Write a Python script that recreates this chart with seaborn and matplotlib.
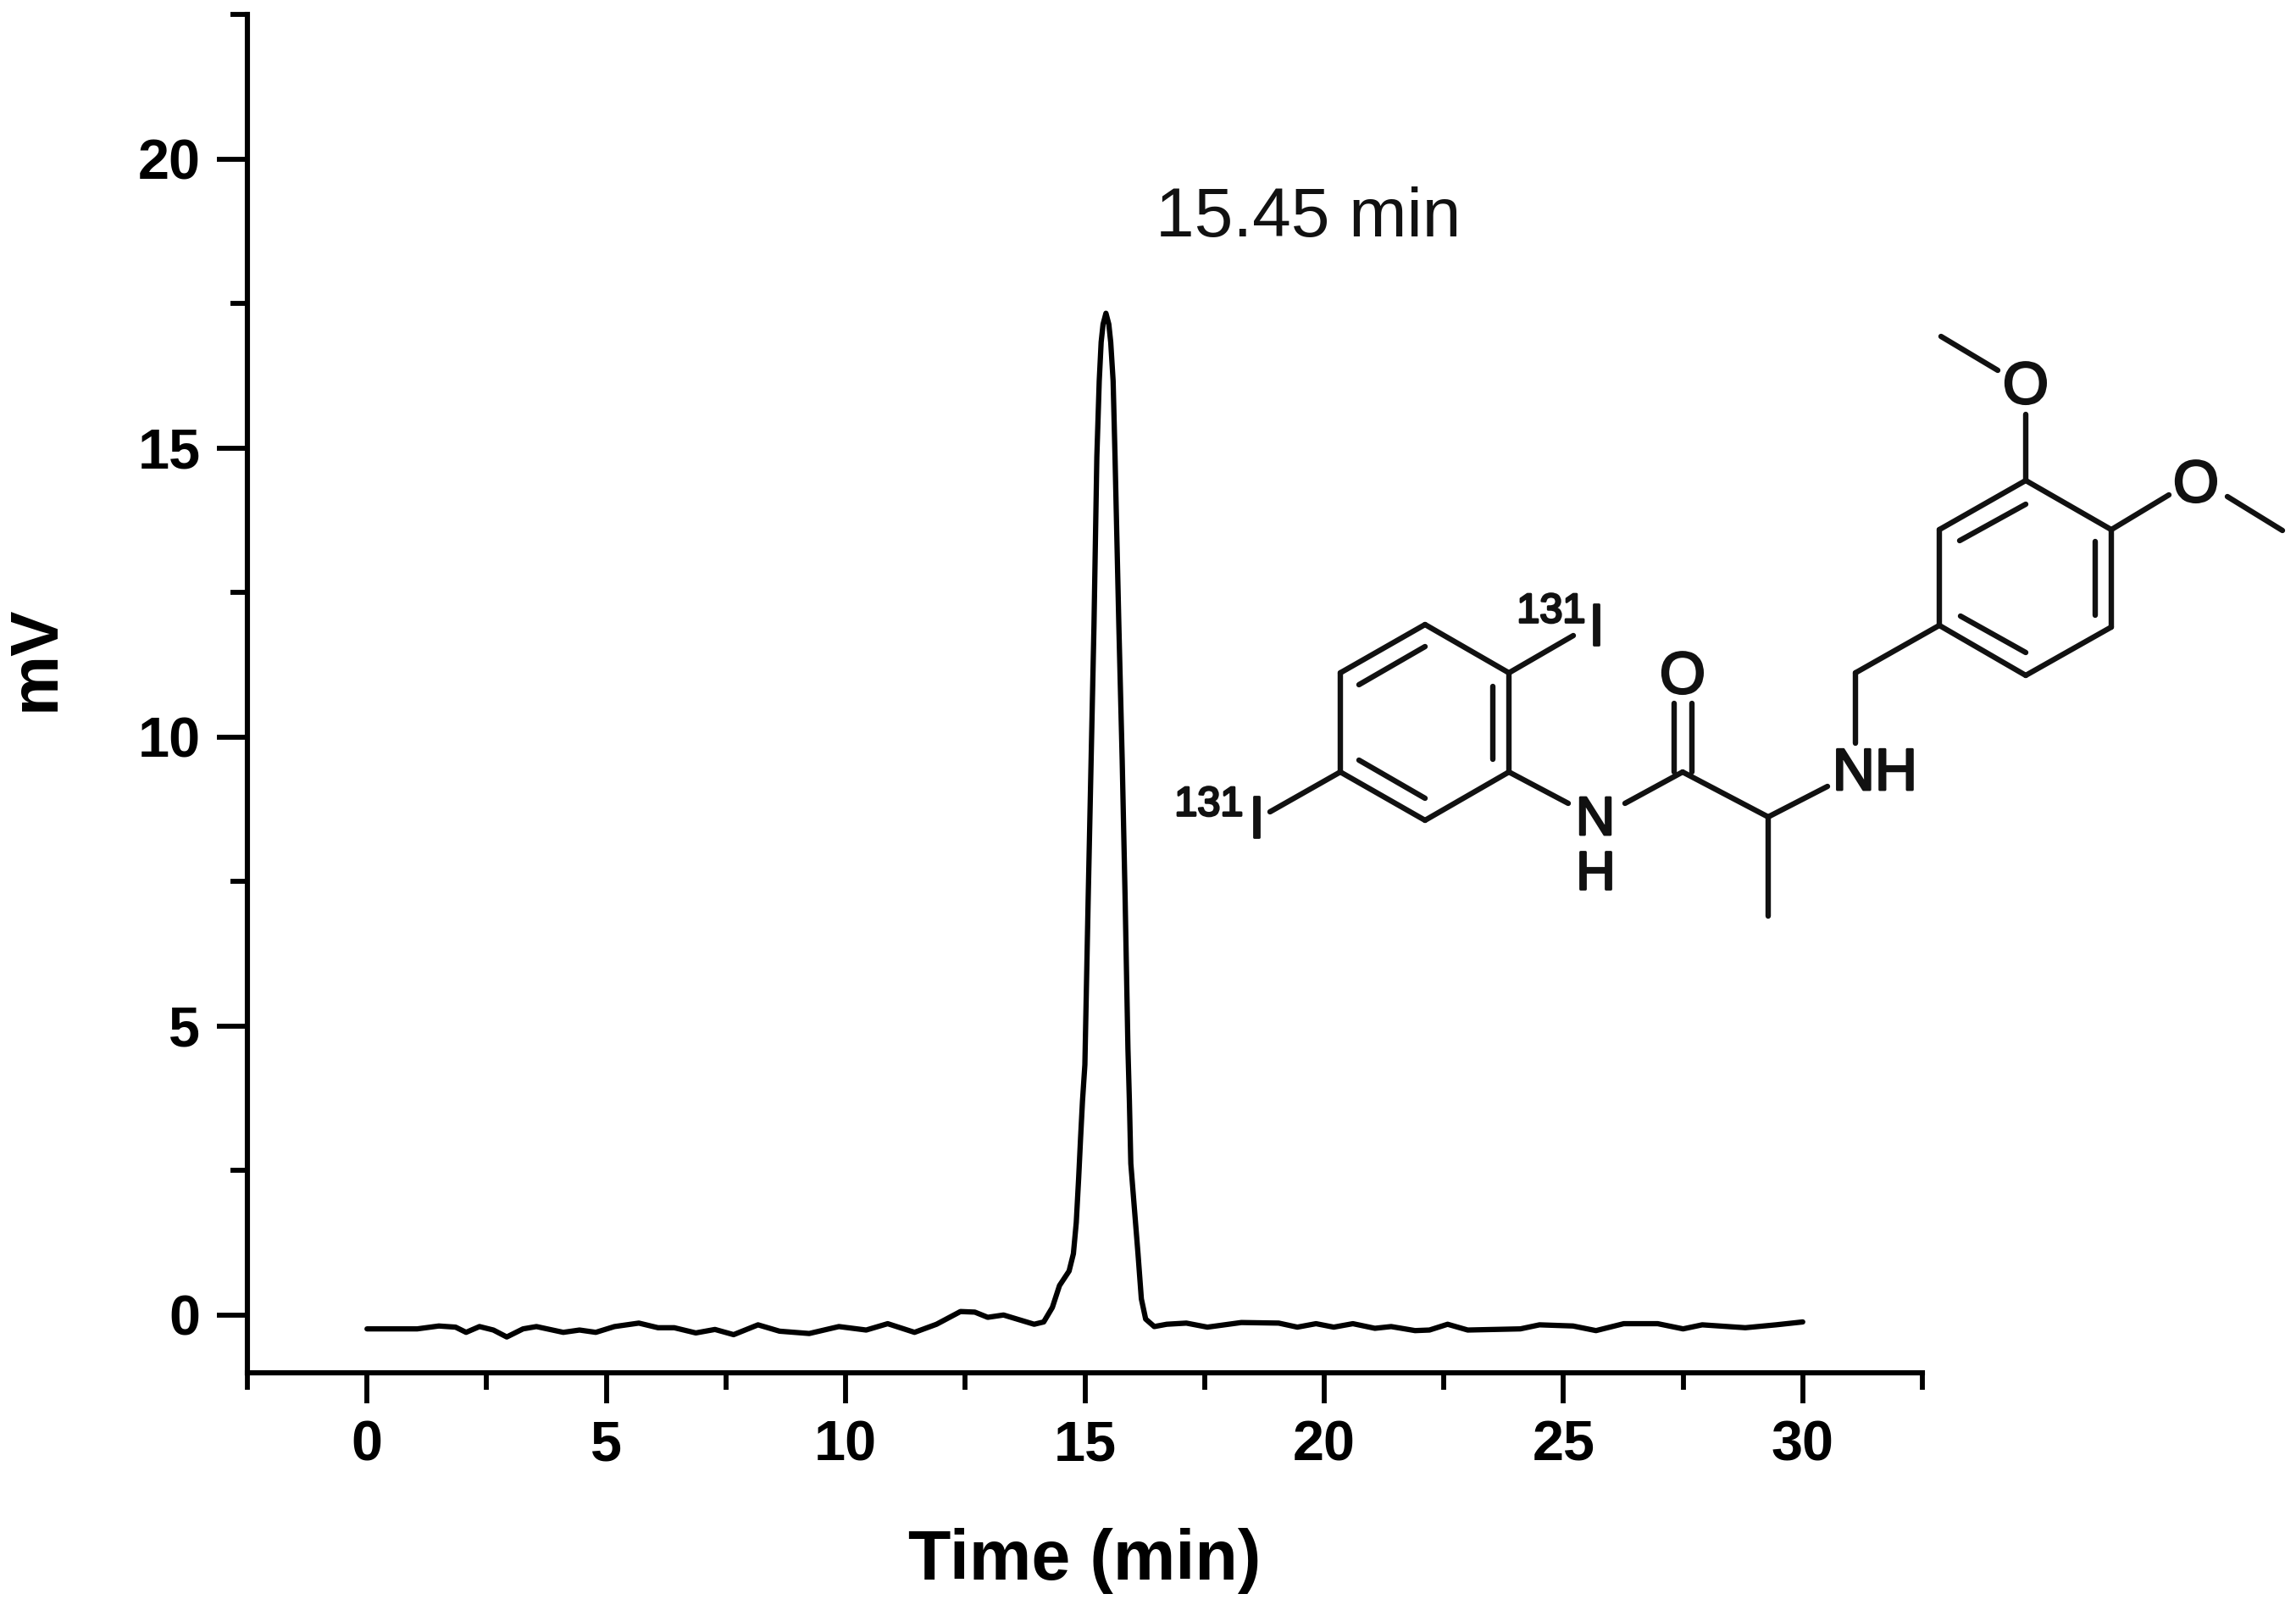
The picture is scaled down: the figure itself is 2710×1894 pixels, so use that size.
import numpy as np
import pandas as pd
import matplotlib
matplotlib.use("Agg")
import matplotlib.pyplot as plt
import matplotlib.patheffects as pe
from matplotlib.ticker import MultipleLocator
import seaborn as sns

# chromatogram
time_min = [0, 1.05, 1.5, 1.85, 2.07, 2.35, 2.64, 2.92, 3.26, 3.54, 4.1, 4.44, 4.78, 5.17, 5.68,
            6.08, 6.42, 6.87, 7.27, 7.66, 8.17, 8.62, 9.24, 9.86, 10.43, 10.88, 11.44, 11.9,
            12.4, 12.7, 12.97, 13.3, 13.58, 13.94, 14.14, 14.32, 14.47, 14.67, 14.76, 14.82,
            14.87, 14.91, 14.95, 15.0, 15.07, 15.13, 15.19, 15.25, 15.3, 15.34, 15.38, 15.44,
            15.5, 15.54, 15.59, 15.63, 15.71, 15.78, 15.84, 15.9, 15.93, 15.96, 16.03, 16.11,
            16.18, 16.27, 16.45, 16.71, 17.12, 17.56, 18.27, 19.05, 19.44, 19.83, 20.2, 20.6,
            21.06, 21.4, 21.9, 22.2, 22.58, 23.0, 24.1, 24.5, 25.2, 25.68, 26.26, 26.97, 27.5,
            27.9, 28.8, 29.44, 30]
signal_mv = [-0.24, -0.24, -0.19, -0.21, -0.30, -0.20, -0.26, -0.38, -0.24, -0.20, -0.30, -0.26,
             -0.30, -0.20, -0.14, -0.22, -0.22, -0.31, -0.25, -0.34, -0.17, -0.28, -0.32, -0.20,
             -0.26, -0.15, -0.30, -0.16, 0.06, 0.05, -0.04, 0.0, -0.07, -0.16, -0.12, 0.13,
             0.51, 0.76, 1.06, 1.6, 2.37, 3.06, 3.7, 4.33, 7.24, 9.59, 11.92, 14.85, 16.16,
             16.83, 17.14, 17.33, 17.14, 16.83, 16.16, 14.85, 11.92, 9.59, 7.24, 4.6, 3.7,
             2.62, 1.89, 1.06, 0.28, -0.07, -0.2, -0.16, -0.14, -0.21, -0.13, -0.14, -0.21,
             -0.15, -0.21, -0.15, -0.23, -0.20, -0.27, -0.26, -0.16, -0.26, -0.24, -0.17,
             -0.19, -0.27, -0.15, -0.15, -0.24, -0.17, -0.22, -0.17, -0.12]

x_ticks = [0, 5, 10, 15, 20, 25, 30]
y_ticks = [0, 5, 10, 15, 20]

# structure drawn in image pixels: one entry per bond, (x1, y1, x2, y2)
bonds = [
    (1682, 737, 1781, 794), (1781, 794, 1781, 911), (1781, 911, 1682, 968),
    (1682, 968, 1582, 911), (1582, 911, 1582, 794), (1582, 794, 1682, 737),
    (1682, 763, 1604, 808), (1762, 810, 1762, 896), (1604, 897, 1682, 942),
    (1781, 794, 1857, 750), (1582, 911, 1499, 958), (1781, 911, 1851, 948),
    (1918, 948, 1986, 911), (1976, 911, 1976, 830), (1997, 911, 1997, 830),
    (1986, 911, 2087, 964), (2087, 964, 2087, 1081), (2087, 964, 2157, 928),
    (2190, 877, 2190, 794), (2190, 794, 2289, 738),
    (2289, 738, 2289, 625), (2289, 625, 2391, 567), (2391, 567, 2492, 625),
    (2492, 625, 2492, 740), (2492, 740, 2391, 797), (2391, 797, 2289, 738),
    (2391, 595, 2313, 638), (2473, 639, 2473, 726), (2391, 770, 2314, 727),
    (2391, 567, 2391, 489), (2358, 437, 2291, 397),
    (2492, 625, 2560, 584), (2629, 586, 2694, 626),
]
atoms = [("O", 1986, 800), ("NH", 2213, 914),
         ("O", 2391, 458), ("O", 2592, 574), ("I", 1884, 743), ("I", 1483, 970)]
amide_nh = [("N", 1883, 968), ("H", 1883, 1032)]
isotopes = [("131", 1831, 722), ("131", 1427, 950)]

sns.set_theme(style="ticks")
plt.rcParams['font.family'] = ['Liberation Sans', 'DejaVu Sans']

df = pd.DataFrame({"time": time_min, "signal": signal_mv})

fig = plt.figure(figsize=(27.1, 18.94), dpi=100)
ax = fig.add_axes([292 / 2710, 1 - 1620 / 1894, (2269 - 292) / 2710, (1620 - 17) / 1894])

sns.lineplot(data=df, x="time", y="signal", color="black", linewidth=4.5, estimator=None, ax=ax)
ax.lines[0].set_solid_joinstyle("round")
ax.lines[0].set_solid_capstyle("round")

ax.set_xlim(-2.5, 32.5)
ax.set_ylim(-1, 22.5)
ax.set_xticks(x_ticks)
ax.set_yticks(y_ticks)
ax.xaxis.set_minor_locator(MultipleLocator(2.5))
ax.yaxis.set_minor_locator(MultipleLocator(2.5))
ax.tick_params(axis="both", which="major", length=26, width=4.2, color="black", labelsize=48,
               labelcolor="black", pad=14)
ax.tick_params(axis="both", which="minor", length=14.5, width=4.2, color="black")
plt.setp(ax.get_xticklabels() + ax.get_yticklabels(), fontweight="bold")

ax.set_xlabel("Time (min)", fontsize=59.5, fontweight="bold", color="black", labelpad=47)
ax.set_ylabel("mV", fontsize=57.6, fontweight="bold", color="black", labelpad=59)
ax.yaxis.label.set_y(0.526)

sns.despine(ax=ax)
for side in ["left", "bottom"]:
    ax.spines[side].set_linewidth(4.4)
    ax.spines[side].set_color("black")

ax.text(19.66, 18.97, "15.45 min", fontsize=59, ha="center", va="center", color="#111111")

# overlay in pixel coordinates for the molecule
mol = fig.add_axes([0, 0, 1, 1])
mol.set_xlim(0, 2710)
mol.set_ylim(1894, 0)
mol.axis("off")
mol.patch.set_alpha(0)
for x1, y1, x2, y2 in bonds:
    mol.plot([x1, x2], [y1, y2], color="#111111", linewidth=4.6, solid_capstyle="round")
heavier = [pe.withStroke(linewidth=2, foreground="#111111")]
for label, x, y in atoms:
    mol.text(x, y, label, fontsize=50, ha="center", va="center", color="#111111", path_effects=heavier)
for label, x, y in amide_nh:
    mol.text(x, y, label, fontsize=46, ha="center", va="center", color="#111111", path_effects=heavier)
for label, x, y in isotopes:
    mol.text(x, y, label, fontsize=35, ha="center", va="center", color="#111111", path_effects=heavier)

fig.savefig("out.png", dpi=100)
